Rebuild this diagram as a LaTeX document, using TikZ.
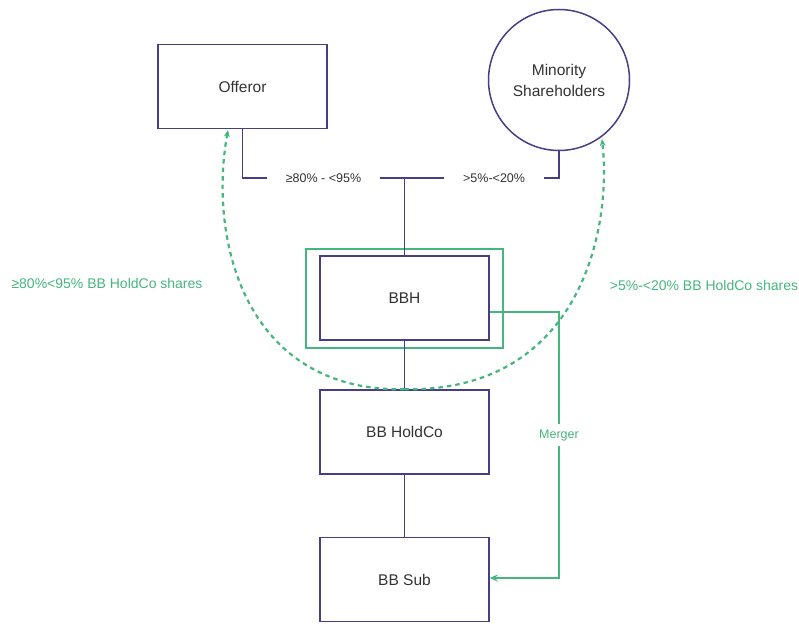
\documentclass[tikz,border=0pt]{standalone}
\usepackage{fontspec}
\setmainfont{Liberation Sans}
\usetikzlibrary{arrows.meta}
\definecolor{navy}{HTML}{463F85}
\definecolor{leaf}{HTML}{45B67D}
\definecolor{ink}{HTML}{333333}
\begin{document}
\begin{tikzpicture}[x=1pt,y=-1pt,
  entity/.style={draw=navy,line width=1.5pt,fill=white,minimum width=169pt,minimum height=84pt,
    font=\fontsize{15.5}{19}\selectfont,text=ink,inner sep=0pt},
  link/.style={draw=navy,line width=1.5pt},
  pct/.style={fill=white,font=\fontsize{12.5}{15}\selectfont,text=ink,inner xsep=19pt,inner ysep=2pt},
  share/.style={draw=leaf,line width=2.2pt,dash pattern=on 4.5pt off 4pt,-{Stealth[length=7pt,width=6pt]}},
  sharelbl/.style={font=\fontsize{14}{17}\selectfont,text=leaf},
  merge/.style={draw=leaf,line width=2pt,-{Stealth[length=8pt,width=7pt]}}]
\useasboundingbox (0,0) rectangle (799,623);

% entities
\node[entity] (off) at (242.5,86.5) {Offeror};
\node[draw=navy,line width=1.5pt,circle,minimum size=141pt,inner sep=0pt,align=center,
  font=\fontsize{15.5}{21}\selectfont,text=ink] (min) at (559,80) {Minority\\Shareholders};
\node[draw=leaf,line width=2.2pt,minimum width=197pt,minimum height=99pt,inner sep=0pt] (wrap) at (404.5,298.5) {};
\node[entity] (bbh) at (404.5,298) {BBH};
\node[entity] (hold) at (404.5,432) {BB HoldCo};
\node[entity] (sub) at (404.5,579.5) {BB Sub};
\coordinate (j) at (404.5,178);
\coordinate (mtop) at (559,312);
\coordinate (mbot) at (559,578);

% ownership connectors
\draw[link] (off.south) |- (j) node[pos=0.75,pct] {≥80\% - <95\%};
\draw[link] (min.south) |- (j) node[pos=0.71,pct] {>5\%-<20\%};
\draw[link] (j) -- (bbh.north);
\draw[link] (bbh.south) -- (hold.north);
\draw[link] (hold.south) -- (sub.north);

% share distribution
\draw[share] (hold.north) .. controls (245,392) and (208,240) .. (228,130);
\draw[share] (hold.north) .. controls (580,392) and (612,230) .. (602,139);
\node[sharelbl] (lsh) at (107,283) {≥80\%<95\% BB HoldCo shares};
\node[sharelbl] (rsh) at (704,285) {>5\%-<20\% BB HoldCo shares};

% merger
\draw[merge] (bbh.east |- mtop) -- (mtop) -- (mbot) -- (sub.east |- mbot);
\node[fill=white,font=\fontsize{12.5}{15}\selectfont,text=leaf,inner xsep=1pt,inner ysep=5pt] (mlbl) at (559,435) {Merger};
\end{tikzpicture}
\end{document}
